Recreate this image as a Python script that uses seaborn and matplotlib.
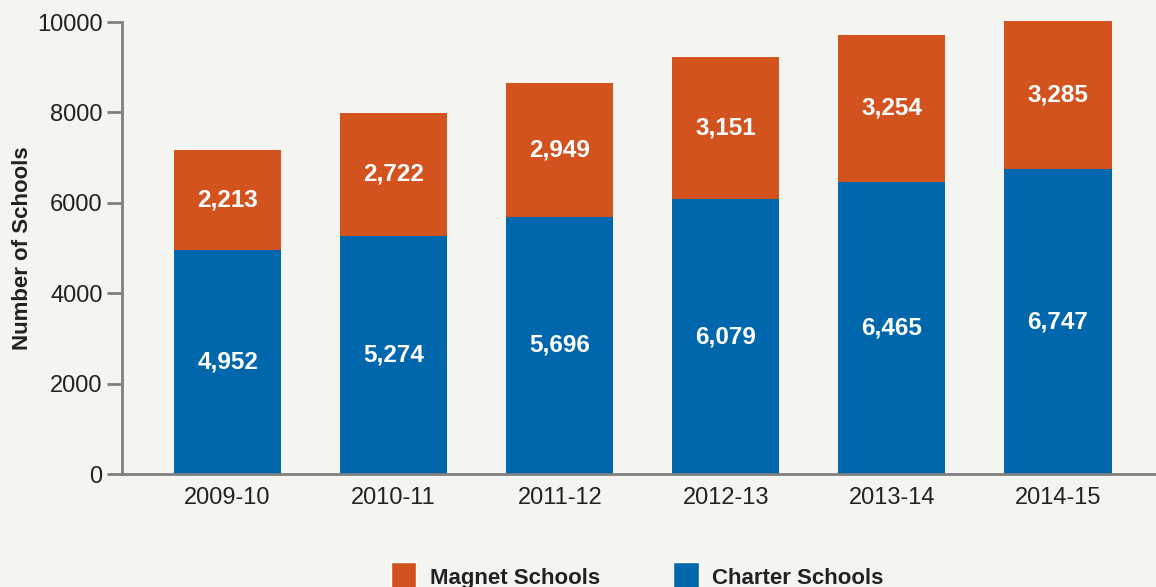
import matplotlib
matplotlib.use("Agg")
import matplotlib.pyplot as plt
import seaborn as sns
import pandas as pd
from matplotlib.patches import Patch

# values
years = ["2009-10", "2010-11", "2011-12", "2012-13", "2013-14", "2014-15"]
charter = [4952, 5274, 5696, 6079, 6465, 6747]
magnet = [2213, 2722, 2949, 3151, 3254, 3285]

ORANGE = "#D3531F"
BLUE = "#0067AC"
BG = "#F4F4F0"
AXIS = "#7F7F7F"
TXT = "#222222"

df = pd.DataFrame({"year": years, "charter": charter, "magnet": magnet})
df["total"] = df["charter"] + df["magnet"]

sns.set_style("white")
plt.rcParams["font.family"] = ["Liberation Sans", "DejaVu Sans"]

fig = plt.figure(figsize=(11.56, 5.87), dpi=100, facecolor=BG)
ax = fig.add_axes([0.1055, 0.1925, 0.8945, 0.77])
ax.set_facecolor(BG)

# stacked: total in orange, charter drawn over it
sns.barplot(data=df, x="year", y="total", order=years, color=ORANGE,
            saturation=1, width=0.645, linewidth=0, ax=ax)
sns.barplot(data=df, x="year", y="charter", order=years, color=BLUE,
            saturation=1, width=0.645, linewidth=0, ax=ax)
for p in ax.patches:
    p.set_clip_on(False)

for i, row in df.iterrows():
    ax.text(i, row["charter"] / 2, f"{row['charter']:,}", ha="center", va="center",
            color="white", fontsize=17.5, fontweight="bold")
    ax.text(i, row["charter"] + row["magnet"] / 2, f"{row['magnet']:,}", ha="center",
            va="center", color="white", fontsize=17.5, fontweight="bold")

ax.set_ylim(0, 10000)
ax.set_xlim(-0.636, 5.59)
ax.set_yticks(range(0, 10001, 2000))
ax.set_xlabel("")
ax.set_ylabel("Number of Schools", fontsize=16, fontweight="bold", color=TXT)
ax.yaxis.set_label_coords(-0.086, 0.5)

for s in ["top", "right"]:
    ax.spines[s].set_visible(False)
for s in ["left", "bottom"]:
    ax.spines[s].set_color(AXIS)
    ax.spines[s].set_linewidth(2)
ax.tick_params(axis="y", left=True, length=11, width=2, color=AXIS, labelsize=17,
               labelcolor=TXT, pad=3)
ax.tick_params(axis="x", bottom=False, length=0, labelsize=17, labelcolor=TXT, pad=9)

handles = [Patch(facecolor=ORANGE, label="Magnet Schools"),
           Patch(facecolor=BLUE, label="Charter Schools")]
leg = fig.legend(handles=handles, loc="upper center", bbox_to_anchor=(0.551, 0.076),
                 ncol=2, frameon=False, handlelength=1.15, handleheight=1.6,
                 handletextpad=0.6, columnspacing=3.3,
                 prop={"family": "Liberation Sans", "weight": "bold", "size": 16})
for t in leg.get_texts():
    t.set_color(TXT)

fig.savefig("out.png", dpi=100, facecolor=BG)
